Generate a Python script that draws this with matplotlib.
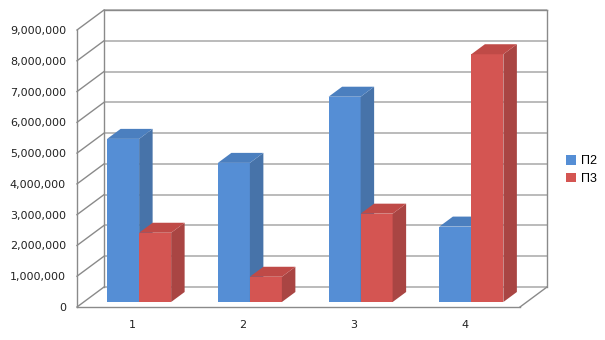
import matplotlib
matplotlib.use("Agg")
import matplotlib.pyplot as plt
from matplotlib.patches import Polygon, Patch

categories = ["1", "2", "3", "4"]
series_names = ["П2", "П3"]
p2_values = [5300000, 4520000, 6670000, 2450000]
p3_values = [2250000, 820000, 2870000, 8050000]
y_ticks = [0, 1000000, 2000000, 3000000, 4000000, 5000000, 6000000, 7000000, 8000000, 9000000]
y_tick_labels = [f"{v:,}" for v in y_ticks]

W, H = 605, 340
fig = plt.figure(figsize=(W / 100, H / 100), dpi=100)
fig.patch.set_facecolor("white")
ax = fig.add_axes([77 / W, 33 / H, 443 / W, 277 / H])
n = len(categories)
ymax = y_ticks[-1]
ax.set_xlim(0, n)
ax.set_ylim(0, ymax)

# oblique depth offset (data units)
px_x = 443 / n          # pixels per category
px_y = 277 / ymax       # pixels per value unit
DX = 27 / px_x
DY = 20 / px_y

wall_c = "#8a8a8a"
grid_c = "#a8a8a8"

# gridlines on back wall + left wall diagonals
for v in y_ticks:
    ax.plot([DX, n + DX], [v + DY, v + DY], color=grid_c, lw=1.1, clip_on=False, zorder=1,
            solid_capstyle="butt")
    ax.plot([0, DX], [v, v + DY], color=wall_c, lw=1.0, clip_on=False, zorder=1)
# wall verticals
ax.plot([0, 0], [0, ymax], color=wall_c, lw=1.0, clip_on=False, zorder=1)
ax.plot([DX, DX], [DY, ymax + DY], color=wall_c, lw=1.0, clip_on=False, zorder=1)
ax.plot([n + DX, n + DX], [DY, ymax + DY], color=wall_c, lw=1.0, clip_on=False, zorder=1)
# top of back wall
ax.plot([DX, n + DX], [ymax + DY, ymax + DY], color=wall_c, lw=1.0, clip_on=False, zorder=1)
# floor
ax.plot([0, n], [0, 0], color=wall_c, lw=1.0, clip_on=False, zorder=1)
ax.plot([n, n + DX], [0, DY], color=wall_c, lw=1.0, clip_on=False, zorder=1)

bar_w = 32 / px_x
ox, oy = 0.25 * DX, 0.25 * DY
bdx, bdy = 0.5 * DX, 0.5 * DY

colors = {
    0: ("#558ed5", "#4773a9", "#4b7fbf"),
    1: ("#d45552", "#a94543", "#bf4a47"),
}

def draw_bar(x0, h, cols, z):
    front, side, top = cols
    x1 = x0 + bar_w
    y0 = oy
    fx0, fx1 = x0 + ox, x1 + ox
    ax.add_patch(Polygon([(fx0, y0), (fx1, y0), (fx1, y0 + h), (fx0, y0 + h)],
                         closed=True, facecolor=front, edgecolor="none", zorder=z, clip_on=False))
    ax.add_patch(Polygon([(fx1, y0), (fx1 + bdx, y0 + bdy), (fx1 + bdx, y0 + bdy + h), (fx1, y0 + h)],
                         closed=True, facecolor=side, edgecolor="none", zorder=z, clip_on=False))
    ax.add_patch(Polygon([(fx0, y0 + h), (fx1, y0 + h), (fx1 + bdx, y0 + h + bdy), (fx0 + bdx, y0 + h + bdy)],
                         closed=True, facecolor=top, edgecolor="none", zorder=z, clip_on=False))

z = 3
for i in range(n):
    c = i + 0.5
    draw_bar(c - bar_w, p2_values[i], colors[0], z)
    z += 1
    draw_bar(c, p3_values[i], colors[1], z)
    z += 1

for s in ax.spines.values():
    s.set_visible(False)
ax.set_xticks([i + 0.5 for i in range(n)])
ax.set_xticklabels(categories)
ax.set_yticks(y_ticks)
ax.set_yticklabels(y_tick_labels)
ax.tick_params(length=0, labelsize=8, colors="#222222")
ax.tick_params(axis="y", pad=8)
ax.tick_params(axis="x", pad=9)
ax.patch.set_visible(False)

handles = [Patch(facecolor=colors[0][0]), Patch(facecolor=colors[1][0])]
fig.legend(handles, series_names, loc="center left", bbox_to_anchor=(555 / W, 1 - 170 / H),
           frameon=False, handlelength=0.8, handleheight=0.8, handletextpad=0.4,
           labelspacing=0.4, prop={"family": "Liberation Sans", "size": 9})

fig.savefig("out.png", dpi=100, facecolor="white")
